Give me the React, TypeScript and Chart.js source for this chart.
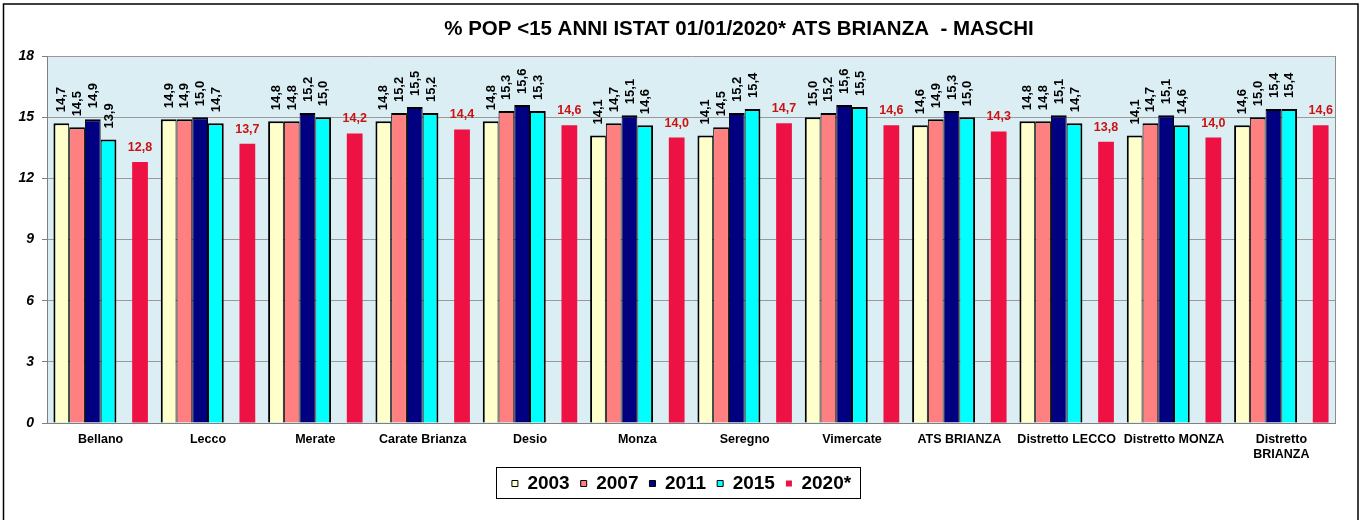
import React, { useEffect, useRef } from "react";
import { Chart, registerables } from "chart.js";

Chart.register(...registerables);

const TITLE = "% POP <15 ANNI ISTAT 01/01/2020* ATS BRIANZA  - MASCHI";

const categories: (string | string[])[] = [
  "Bellano",
  "Lecco",
  "Merate",
  "Carate Brianza",
  "Desio",
  "Monza",
  "Seregno",
  "Vimercate",
  "ATS BRIANZA",
  "Distretto LECCO",
  "Distretto MONZA",
  ["Distretto", "BRIANZA"],
];

const v2003 = [14.7, 14.9, 14.8, 14.8, 14.8, 14.1, 14.1, 15.0, 14.6, 14.8, 14.1, 14.6];
const v2007 = [14.5, 14.9, 14.8, 15.2, 15.3, 14.7, 14.5, 15.2, 14.9, 14.8, 14.7, 15.0];
const v2011 = [14.9, 15.0, 15.2, 15.5, 15.6, 15.1, 15.2, 15.6, 15.3, 15.1, 15.1, 15.4];
const v2015 = [13.9, 14.7, 15.0, 15.2, 15.3, 14.6, 15.4, 15.5, 15.0, 14.7, 14.6, 15.4];
const v2020 = [12.8, 13.7, 14.2, 14.4, 14.6, 14.0, 14.7, 14.6, 14.3, 13.8, 14.0, 14.6];

const yTicks = [0, 3, 6, 9, 12, 15, 18];

const fmt = (v: number) => v.toFixed(1).replace(".", ",");

const framePlugin = {
  id: "frame",
  afterLayout(chart: any) {
    const lg = chart.legend;
    if (lg) {
      lg.left = 0;
      lg.right = chart.width;
    }
  },
  beforeDraw(chart: any) {
    const { ctx, chartArea } = chart;
    ctx.save();
    ctx.fillStyle = "#ffffff";
    ctx.fillRect(0, 0, chart.width, chart.height);
    ctx.fillStyle = "#DAEEF3";
    ctx.fillRect(chartArea.left, chartArea.top, chartArea.right - chartArea.left, chartArea.bottom - chartArea.top);
    ctx.restore();
  },
  afterDraw(chart: any) {
    const { ctx, chartArea } = chart;
    ctx.save();
    // plot border (right edge)
    ctx.strokeStyle = "#8c8c8c";
    ctx.lineWidth = 1;
    ctx.beginPath();
    ctx.moveTo(chartArea.right + 0.5, chartArea.top);
    ctx.lineTo(chartArea.right + 0.5, chartArea.bottom);
    ctx.stroke();
    // outer frame
    ctx.strokeStyle = "#000000";
    ctx.lineWidth = 1.5;
    ctx.strokeRect(3.5, 4, 1354.5, chart.height + 20);
    // title
    ctx.fillStyle = "#000000";
    ctx.font = "bold 20.5px 'Liberation Sans', Arial, sans-serif";
    ctx.textAlign = "center";
    ctx.textBaseline = "middle";
    ctx.fillText(TITLE, 739, 29);
    // legend frame
    const lg = chart.legend;
    if (lg && lg.legendHitBoxes && lg.legendHitBoxes.length) {
      const hb = lg.legendHitBoxes;
      const first = hb[0];
      const last = hb[hb.length - 1];
      const cy = first.top + first.height / 2;
      const l = Math.round(first.left - 16);
      const r = Math.round(last.left + last.width + 9);
      ctx.strokeStyle = "#000000";
      ctx.lineWidth = 1;
      ctx.strokeRect(l + 0.5, Math.round(cy - 17) + 0.5, r - l, 31);
    }
    ctx.restore();
  },
};

const labelPlugin = {
  id: "valueLabels",
  afterDatasetsDraw(chart: any) {
    const { ctx } = chart;
    ctx.save();
    chart.data.datasets.forEach((ds: any, di: number) => {
      if (!ds.label) return;
      const meta = chart.getDatasetMeta(di);
      meta.data.forEach((bar: any, i: number) => {
        const val = ds.data[i];
        if (val == null) return;
        if (ds.label === "2020*") {
          ctx.fillStyle = "#CC1111";
          ctx.font = "bold 12.5px 'Liberation Sans', Arial, sans-serif";
          ctx.textAlign = "center";
          ctx.textBaseline = "alphabetic";
          ctx.fillText(fmt(val), bar.x, bar.y - 11);
        } else {
          ctx.save();
          ctx.fillStyle = "#000000";
          ctx.font = "bold 13px 'Liberation Sans', Arial, sans-serif";
          ctx.translate(bar.x + 0.5, bar.y - 11);
          ctx.rotate(-Math.PI / 2);
          ctx.textAlign = "left";
          ctx.textBaseline = "middle";
          ctx.fillText(fmt(val), 0, 0);
          ctx.restore();
        }
      });
    });
    ctx.restore();
  },
};

export default function App() {
  const ref = useRef<HTMLCanvasElement | null>(null);

  useEffect(() => {
    document.body.style.margin = "0";
    if (!ref.current) return;
    const black = "#000000";
    const chart = new Chart(ref.current, {
      type: "bar",
      data: {
        labels: categories,
        datasets: [
          { label: "2003", data: v2003, backgroundColor: "#FFFFCC", borderColor: black, borderWidth: { top: 2, left: 2, right: 1, bottom: 0 } as any, borderSkipped: false },
          { label: "2007", data: v2007, backgroundColor: "#FF8080", borderColor: black, borderWidth: { top: 2, left: 1, right: 1, bottom: 0 } as any, borderSkipped: false },
          { label: "2011", data: v2011, backgroundColor: "#000080", borderColor: black, borderWidth: { top: 2, left: 1, right: 1, bottom: 0 } as any, borderSkipped: false },
          { label: "2015", data: v2015, backgroundColor: "#00FFFF", borderColor: black, borderWidth: { top: 2, left: 1, right: 2, bottom: 0 } as any, borderSkipped: false },
          { label: "", data: categories.map(() => null), backgroundColor: "rgba(0,0,0,0)" },
          { label: "2020*", data: v2020, backgroundColor: "#EE1144", borderWidth: 0 },
        ],
      },
      options: {
        animation: false,
        responsive: false,
        maintainAspectRatio: false,
        layout: { padding: { left: 0, top: 56, right: 28, bottom: 17 } },
        datasets: { bar: { barPercentage: 1, categoryPercentage: 0.88 } },
        scales: {
          x: {
            grid: { display: false, drawTicks: false },
            border: { display: true, color: "#808080", width: 1 },
            ticks: {
              color: black,
              padding: 9,
              maxRotation: 0,
              autoSkip: false,
              font: { family: "'Liberation Sans', Arial, sans-serif", weight: "bold", size: 12.5, lineHeight: 1.2 },
            },
            afterFit(scale: any) {
              scale.height = 40;
            },
          },
          y: {
            min: 0,
            max: 18,
            afterBuildTicks(scale: any) {
              scale.ticks = yTicks.map((v) => ({ value: v }));
            },
            grid: { color: "#999999", lineWidth: 1, drawTicks: true, tickLength: 5, tickColor: "#808080" },
            border: { display: true, color: "#808080", width: 1 },
            ticks: {
              color: black,
              padding: 8,
              font: { family: "'Liberation Sans', Arial, sans-serif", weight: "bold", style: "italic", size: 14 },
            },
            afterFit(scale: any) {
              scale.width = 47;
            },
          },
        },
        plugins: {
          title: { display: false },
          tooltip: { enabled: false },
          legend: {
            display: true,
            position: "bottom",
            labels: {
              boxWidth: 6,
              boxHeight: 6,
              padding: 11,
              color: black,
              font: { family: "'Liberation Sans', Arial, sans-serif", weight: "bold", size: 19 },
              filter: (item: any) => item.text !== "",
              generateLabels: (ch: any) =>
                ch.data.datasets.map((ds: any, i: number) => ({
                  text: ds.label,
                  fillStyle: ds.backgroundColor,
                  strokeStyle: ds.label === "2020*" ? ds.backgroundColor : "#000000",
                  lineWidth: ds.label === "2020*" ? 0 : 1,
                  hidden: false,
                  datasetIndex: i,
                })),
            },
          },
        },
      },
      plugins: [framePlugin, labelPlugin],
    });
    return () => chart.destroy();
  }, []);

  return (
    <div style={{ position: "absolute", left: 0, top: 0, width: 1363, height: 520 }}>
      <canvas ref={ref} width={1363} height={520} style={{ display: "block", width: 1363, height: 520 }} />
    </div>
  );
}
